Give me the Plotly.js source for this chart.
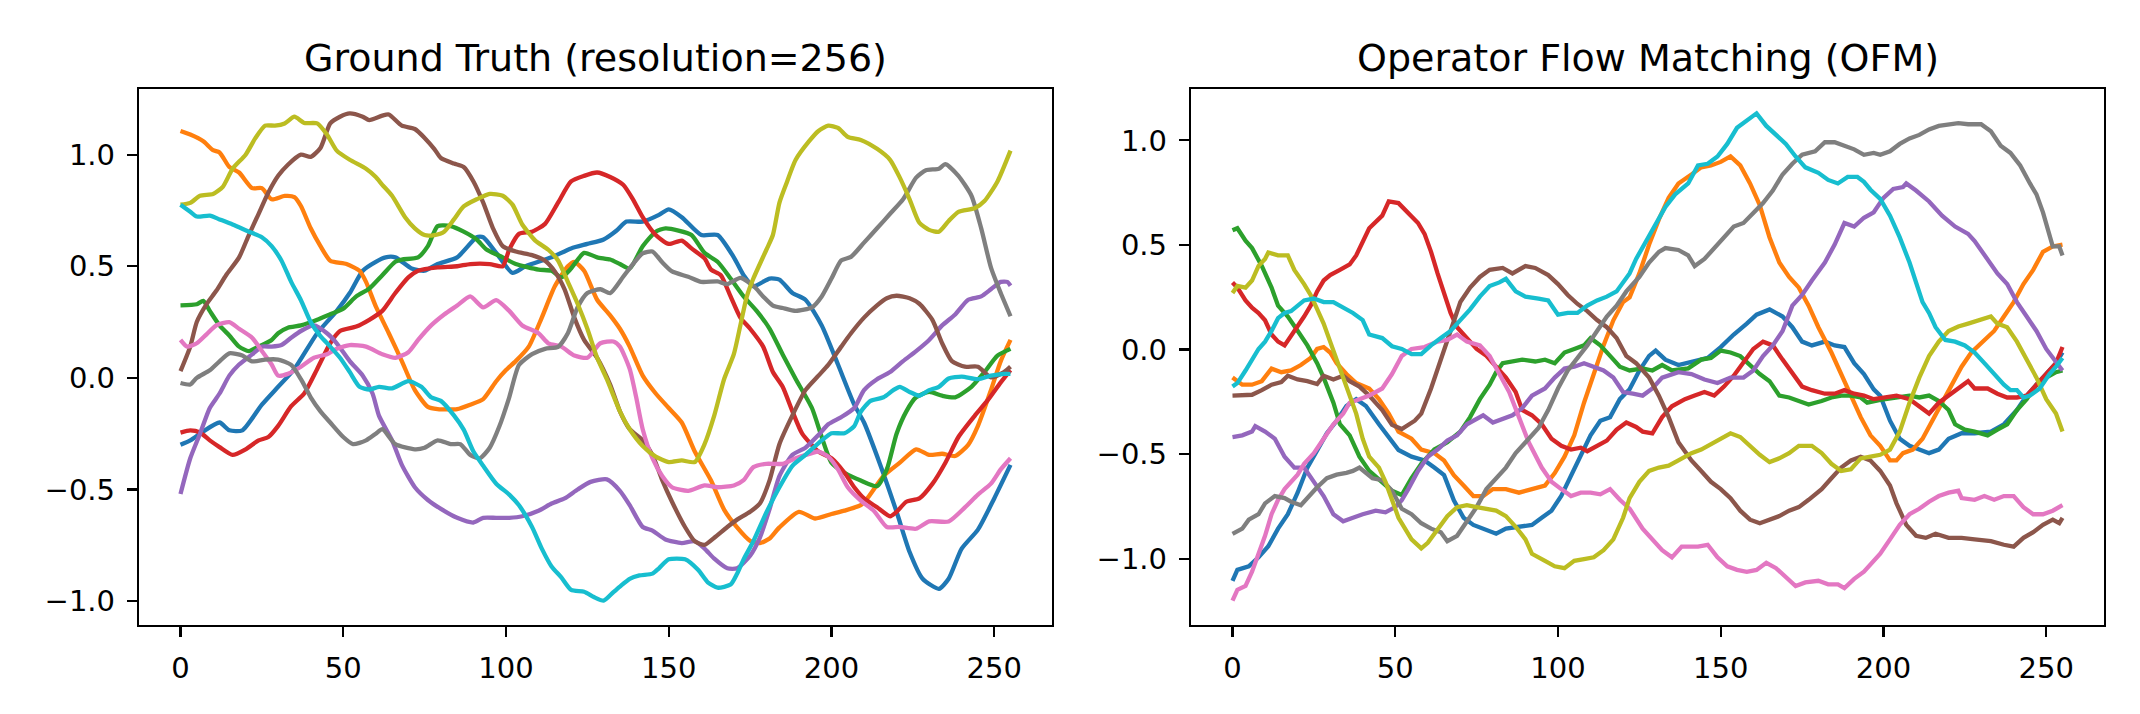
<!DOCTYPE html>
<html><head><meta charset="utf-8">
<script src="https://cdn.plot.ly/plotly-3.0.1.min.js"></script>
<style>html,body{margin:0;padding:0;background:#fff}#chart{width:2140px;height:714px}</style>
</head><body><div id="chart"></div>
<script>
// ---------- labels ----------
const panelTitles = ['Ground Truth (resolution=256)', 'Operator Flow Matching (OFM)'];
const xTickVals = [0, 50, 100, 150, 200, 250];
const yTickVals = [-1, -0.5, 0, 0.5, 1];
const yTickText = ['\u22121.0', '\u22120.5', '0.0', '0.5', '1.0'];
const seriesColors = ['#1f77b4','#ff7f0e','#2ca02c','#d62728','#9467bd','#8c564b','#e377c2','#7f7f7f','#bcbd22','#17becf'];

// ---------- Ground truth samples [x, value] ----------
const gtBlue = [[0,-0.30],[3,-0.28],[7,-0.24],[12,-0.20],[15,-0.235],[19,-0.235],[25,-0.12],[30,-0.04],[35,0.04],[42,0.20],[48,0.30],[52,0.38],[56,0.48],[60,0.52],[63,0.54],[66,0.54],[71,0.49],[75,0.48],[79,0.51],[85,0.54],[91,0.63],[93,0.63],[97,0.56],[102,0.47],[106,0.50],[114,0.54],[120,0.58],[125,0.60],[130,0.62],[134,0.66],[137,0.70],[142,0.70],[147,0.73],[150,0.755],[154,0.72],[160,0.64],[165,0.64],[170,0.54],[173,0.46],[176,0.41],[181,0.445],[184,0.44],[188,0.38],[192,0.35],[197,0.235],[202,0.06],[207,-0.12],[210,-0.20],[215,-0.39],[220,-0.60],[224,-0.78],[228,-0.90],[233,-0.945],[236,-0.90],[240,-0.765],[245,-0.68],[250,-0.54],[255,-0.39]];
const gtOrange = [[0,1.106],[3,1.09],[7,1.06],[10,1.02],[12,1.01],[15,0.945],[18,0.92],[22,0.85],[25,0.85],[28,0.80],[32,0.815],[35,0.81],[37,0.77],[40,0.67],[43,0.59],[46,0.525],[51,0.51],[55,0.48],[57,0.43],[60,0.32],[64,0.20],[68,0.075],[72,-0.055],[76,-0.13],[79,-0.14],[85,-0.14],[89,-0.12],[93,-0.095],[97,-0.015],[100,0.035],[103,0.075],[107,0.14],[111,0.27],[115,0.41],[119,0.50],[121,0.52],[124,0.48],[128,0.35],[132,0.28],[135,0.22],[138,0.14],[142,0.01],[146,-0.07],[150,-0.135],[154,-0.20],[158,-0.33],[163,-0.46],[167,-0.59],[171,-0.67],[175,-0.73],[178,-0.74],[181,-0.72],[184,-0.67],[190,-0.60],[195,-0.63],[200,-0.61],[204,-0.595],[209,-0.57],[211,-0.54],[216,-0.44],[221,-0.38],[226,-0.32],[230,-0.345],[234,-0.34],[238,-0.35],[242,-0.30],[245,-0.215],[249,-0.055],[252,0.075],[255,0.17]];
const gtGreen = [[0,0.325],[5,0.33],[7,0.345],[9,0.30],[12,0.235],[15,0.19],[18,0.14],[21,0.12],[24,0.14],[28,0.17],[30,0.20],[33,0.225],[37,0.235],[42,0.26],[46,0.285],[50,0.31],[54,0.365],[58,0.40],[62,0.46],[66,0.52],[68,0.53],[73,0.54],[76,0.59],[79,0.68],[83,0.68],[87,0.655],[91,0.62],[94,0.575],[99,0.54],[103,0.51],[110,0.485],[114,0.48],[117,0.45],[120,0.49],[124,0.56],[128,0.54],[132,0.53],[135,0.51],[138,0.49],[142,0.59],[146,0.655],[149,0.67],[153,0.66],[157,0.64],[161,0.56],[165,0.52],[169,0.445],[173,0.365],[177,0.30],[181,0.22],[185,0.105],[189,-0.005],[194,-0.135],[197,-0.265],[200,-0.38],[204,-0.425],[209,-0.46],[214,-0.485],[217,-0.41],[220,-0.25],[223,-0.15],[226,-0.087],[230,-0.063],[234,-0.08],[238,-0.087],[243,-0.04],[247,0.026],[251,0.10],[255,0.13]];
const gtRed = [[0,-0.245],[3,-0.235],[6,-0.245],[9,-0.28],[12,-0.31],[16,-0.345],[20,-0.32],[24,-0.28],[27,-0.265],[30,-0.215],[34,-0.127],[38,-0.07],[42,0.04],[46,0.155],[49,0.21],[54,0.23],[58,0.26],[62,0.30],[66,0.38],[70,0.45],[73,0.48],[79,0.495],[85,0.50],[89,0.51],[95,0.51],[99,0.50],[101,0.575],[104,0.645],[108,0.655],[112,0.69],[116,0.785],[120,0.88],[124,0.905],[128,0.92],[132,0.90],[136,0.865],[139,0.80],[142,0.72],[146,0.64],[150,0.60],[154,0.615],[157,0.58],[161,0.535],[163,0.485],[166,0.46],[169,0.365],[172,0.27],[175,0.22],[179,0.14],[182,0.026],[185,-0.04],[188,-0.15],[191,-0.25],[196,-0.33],[200,-0.36],[204,-0.425],[207,-0.49],[210,-0.54],[214,-0.58],[218,-0.62],[220,-0.60],[223,-0.555],[227,-0.54],[231,-0.475],[235,-0.38],[239,-0.265],[244,-0.17],[248,-0.10],[252,-0.02],[255,0.035]];
const gtPurple = [[0,-0.52],[3,-0.36],[6,-0.25],[9,-0.135],[12,-0.07],[15,0.01],[18,0.06],[22,0.105],[25,0.14],[28,0.14],[31,0.147],[34,0.18],[37,0.21],[41,0.235],[45,0.20],[48,0.155],[52,0.075],[56,0.01],[59,-0.07],[61,-0.17],[65,-0.28],[68,-0.39],[72,-0.49],[76,-0.547],[80,-0.587],[85,-0.627],[90,-0.648],[93,-0.627],[97,-0.627],[101,-0.627],[105,-0.62],[110,-0.595],[114,-0.563],[118,-0.54],[122,-0.50],[126,-0.466],[131,-0.455],[135,-0.506],[138,-0.57],[142,-0.668],[145,-0.684],[149,-0.724],[154,-0.74],[158,-0.732],[161,-0.765],[164,-0.81],[168,-0.853],[171,-0.853],[175,-0.797],[178,-0.716],[181,-0.587],[184,-0.44],[188,-0.345],[192,-0.313],[196,-0.256],[199,-0.208],[203,-0.176],[207,-0.135],[210,-0.055],[214,-0.006],[218,0.026],[222,0.075],[226,0.12],[230,0.17],[234,0.235],[238,0.284],[242,0.35],[246,0.365],[249,0.397],[252,0.43],[254,0.43],[255,0.413]];
const gtBrown = [[0,0.03],[3,0.14],[5,0.25],[8,0.33],[11,0.39],[14,0.46],[18,0.54],[21,0.64],[24,0.735],[27,0.83],[30,0.905],[33,0.955],[37,1.0],[40,0.99],[43,1.03],[46,1.14],[49,1.17],[52,1.185],[56,1.17],[58,1.155],[62,1.175],[64,1.18],[68,1.13],[72,1.115],[75,1.075],[78,1.025],[80,0.985],[84,0.96],[87,0.945],[90,0.88],[93,0.785],[96,0.67],[99,0.59],[103,0.566],[108,0.55],[112,0.525],[115,0.477],[118,0.397],[121,0.27],[124,0.17],[128,0.09],[132,-0.03],[135,-0.15],[138,-0.23],[142,-0.28],[145,-0.345],[148,-0.458],[151,-0.555],[155,-0.668],[158,-0.732],[161,-0.748],[164,-0.716],[168,-0.668],[171,-0.635],[175,-0.60],[178,-0.563],[181,-0.458],[184,-0.297],[188,-0.168],[192,-0.055],[196,0.01],[199,0.058],[203,0.14],[206,0.20],[210,0.27],[214,0.325],[217,0.357],[220,0.368],[224,0.357],[227,0.332],[231,0.26],[234,0.155],[237,0.075],[241,0.05],[245,0.05],[249,0.002],[253,0.026],[255,0.05]];
const gtPink = [[0,0.17],[2,0.14],[5,0.155],[8,0.195],[11,0.235],[15,0.25],[18,0.22],[22,0.18],[25,0.12],[28,0.06],[30,0.01],[33,0.018],[37,0.05],[41,0.09],[45,0.106],[48,0.13],[52,0.147],[57,0.14],[62,0.106],[66,0.09],[70,0.115],[73,0.17],[77,0.235],[81,0.284],[85,0.324],[89,0.365],[93,0.316],[97,0.348],[101,0.30],[105,0.235],[110,0.20],[113,0.155],[117,0.14],[121,0.10],[125,0.09],[129,0.155],[133,0.163],[135,0.14],[138,0.04],[140,-0.087],[142,-0.23],[145,-0.36],[148,-0.44],[151,-0.49],[156,-0.506],[161,-0.482],[165,-0.49],[170,-0.482],[173,-0.458],[176,-0.40],[180,-0.385],[185,-0.385],[189,-0.36],[194,-0.337],[196,-0.33],[199,-0.353],[202,-0.41],[205,-0.49],[209,-0.55],[213,-0.595],[217,-0.668],[221,-0.668],[226,-0.676],[230,-0.643],[236,-0.643],[241,-0.58],[245,-0.523],[249,-0.474],[252,-0.41],[255,-0.36]];
const gtGray = [[0,-0.023],[3,-0.03],[5,0.0],[9,0.034],[12,0.074],[15,0.11],[19,0.10],[22,0.074],[26,0.082],[30,0.082],[34,0.058],[37,-0.006],[40,-0.087],[43,-0.15],[46,-0.20],[50,-0.265],[53,-0.297],[57,-0.28],[60,-0.25],[62,-0.23],[66,-0.297],[72,-0.32],[75,-0.313],[79,-0.28],[83,-0.297],[86,-0.297],[89,-0.345],[92,-0.36],[95,-0.313],[98,-0.216],[101,-0.087],[104,0.058],[108,0.106],[112,0.13],[116,0.139],[119,0.20],[122,0.316],[125,0.38],[129,0.397],[132,0.38],[136,0.453],[139,0.51],[142,0.558],[145,0.566],[148,0.518],[151,0.477],[156,0.453],[160,0.43],[165,0.432],[168,0.42],[172,0.448],[176,0.413],[179,0.365],[182,0.324],[185,0.313],[189,0.30],[194,0.316],[197,0.365],[200,0.445],[203,0.526],[206,0.542],[210,0.606],[214,0.67],[218,0.735],[222,0.80],[226,0.897],[229,0.93],[233,0.937],[235,0.958],[239,0.905],[243,0.816],[246,0.67],[249,0.494],[252,0.38],[255,0.276]];
const gtOlive = [[0,0.776],[3,0.784],[6,0.816],[10,0.824],[13,0.856],[16,0.937],[20,1.0],[23,1.074],[26,1.13],[29,1.13],[32,1.14],[35,1.17],[38,1.142],[42,1.14],[45,1.09],[48,1.018],[52,0.977],[57,0.937],[60,0.90],[62,0.865],[65,0.816],[69,0.72],[72,0.67],[75,0.64],[78,0.64],[81,0.655],[84,0.71],[87,0.768],[91,0.80],[95,0.824],[99,0.816],[102,0.776],[105,0.687],[109,0.615],[113,0.574],[116,0.526],[119,0.43],[122,0.332],[125,0.22],[128,0.09],[131,-0.006],[135,-0.15],[138,-0.23],[142,-0.305],[146,-0.353],[150,-0.377],[154,-0.37],[158,-0.377],[161,-0.297],[164,-0.168],[167,-0.006],[170,0.106],[172,0.235],[174,0.365],[176,0.445],[180,0.574],[182,0.64],[184,0.784],[186,0.865],[189,0.977],[193,1.058],[196,1.106],[199,1.13],[202,1.12],[205,1.08],[209,1.066],[214,1.026],[218,0.977],[221,0.897],[224,0.80],[227,0.695],[230,0.663],[233,0.655],[236,0.703],[239,0.744],[244,0.76],[247,0.792],[251,0.88],[255,1.018]];
const gtCyan = [[0,0.776],[3,0.744],[5,0.723],[9,0.727],[12,0.71],[16,0.687],[21,0.655],[25,0.63],[28,0.59],[31,0.526],[34,0.43],[37,0.348],[40,0.25],[43,0.187],[46,0.14],[49,0.09],[52,0.026],[55,-0.04],[58,-0.052],[61,-0.04],[65,-0.047],[70,-0.015],[74,-0.04],[77,-0.087],[80,-0.103],[84,-0.168],[87,-0.232],[90,-0.33],[93,-0.394],[97,-0.474],[101,-0.523],[104,-0.571],[108,-0.668],[111,-0.765],[114,-0.845],[117,-0.894],[120,-0.95],[124,-0.958],[127,-0.982],[130,-0.998],[133,-0.96],[135,-0.935],[138,-0.90],[141,-0.885],[145,-0.877],[147,-0.853],[150,-0.813],[155,-0.813],[159,-0.86],[162,-0.916],[165,-0.94],[169,-0.926],[171,-0.877],[173,-0.813],[176,-0.732],[180,-0.603],[184,-0.49],[188,-0.394],[192,-0.345],[197,-0.28],[200,-0.248],[204,-0.248],[207,-0.216],[209,-0.152],[212,-0.103],[216,-0.087],[219,-0.055],[221,-0.04],[224,-0.063],[227,-0.08],[230,-0.055],[233,-0.04],[236,-0.003],[240,0.006],[245,-0.006],[249,0.01],[253,0.018],[255,0.018]];

// ---------- OFM samples [x, value] ----------
const ofmBlue = [[0,-1.105],[1.5,-1.053],[5,-1.036],[8,-0.993],[11,-0.94],[14,-0.856],[17,-0.787],[20,-0.684],[23,-0.564],[26,-0.478],[29,-0.40],[32,-0.34],[35,-0.27],[38,-0.237],[41,-0.27],[45,-0.357],[48,-0.42],[51,-0.48],[55,-0.512],[59,-0.53],[62,-0.564],[65,-0.60],[68,-0.72],[71,-0.804],[74,-0.838],[77,-0.856],[81,-0.88],[84,-0.856],[88,-0.847],[92,-0.838],[95,-0.804],[98,-0.77],[101,-0.70],[104,-0.60],[107,-0.512],[110,-0.41],[113,-0.34],[116,-0.323],[119,-0.237],[122,-0.19],[125,-0.10],[128,-0.03],[130,-0.005],[133,-0.048],[137,-0.074],[142,-0.057],[146,-0.04],[150,0.012],[154,0.072],[158,0.124],[161,0.167],[165,0.192],[169,0.158],[172,0.107],[175,0.038],[178,0.02],[182,0.038],[185,0.02],[188,0.012],[191,-0.065],[194,-0.117],[197,-0.19],[199,-0.22],[202,-0.34],[205,-0.426],[208,-0.46],[211,-0.478],[214,-0.495],[217,-0.478],[220,-0.426],[224,-0.40],[228,-0.40],[233,-0.392],[237,-0.357],[241,-0.289],[244,-0.22],[247,-0.168],[250,-0.117],[253,-0.065],[255,-0.014]];
const ofmOrange = [[0,-0.134],[3,-0.168],[6,-0.168],[9,-0.151],[12,-0.091],[15,-0.108],[18,-0.10],[21,-0.074],[24,-0.04],[26,0.003],[28,0.012],[30,-0.014],[32,-0.065],[35,-0.117],[38,-0.16],[42,-0.186],[45,-0.237],[48,-0.306],[51,-0.392],[55,-0.426],[58,-0.478],[62,-0.495],[65,-0.53],[68,-0.60],[71,-0.65],[74,-0.70],[77,-0.70],[80,-0.667],[84,-0.667],[88,-0.684],[92,-0.667],[96,-0.65],[99,-0.59],[102,-0.512],[105,-0.41],[108,-0.254],[111,-0.117],[114,0.02],[117,0.14],[120,0.227],[122,0.25],[125,0.364],[128,0.502],[131,0.622],[134,0.725],[137,0.794],[141,0.837],[144,0.871],[147,0.88],[150,0.897],[153,0.923],[156,0.88],[159,0.794],[162,0.69],[165,0.536],[168,0.416],[171,0.347],[174,0.296],[177,0.21],[180,0.107],[184,-0.014],[187,-0.117],[190,-0.22],[193,-0.323],[196,-0.41],[199,-0.46],[202,-0.53],[204,-0.53],[206,-0.495],[209,-0.478],[212,-0.426],[215,-0.34],[218,-0.254],[221,-0.168],[224,-0.082],[227,-0.014],[230,0.029],[234,0.089],[237,0.158],[240,0.227],[243,0.313],[246,0.381],[249,0.467],[252,0.493],[255,0.502]];
const ofmGreen = [[0,0.57],[1.5,0.58],[4,0.52],[6,0.485],[9,0.40],[12,0.296],[14,0.21],[17,0.158],[20,0.09],[23,0.02],[26,-0.065],[28,-0.134],[31,-0.254],[33,-0.357],[36,-0.41],[39,-0.512],[42,-0.58],[46,-0.632],[49,-0.675],[52,-0.695],[55,-0.615],[58,-0.546],[62,-0.478],[66,-0.443],[70,-0.392],[73,-0.323],[76,-0.237],[79,-0.168],[81,-0.108],[83,-0.065],[86,-0.057],[89,-0.048],[93,-0.057],[96,-0.048],[99,-0.065],[102,-0.014],[105,0.003],[108,0.02],[110,0.055],[113,0.02],[116,-0.03],[119,-0.082],[122,-0.10],[126,-0.09],[129,-0.10],[132,-0.074],[135,-0.10],[140,-0.09],[144,-0.048],[147,-0.04],[150,-0.005],[153,-0.014],[156,-0.031],[159,-0.074],[162,-0.117],[165,-0.151],[168,-0.22],[171,-0.229],[174,-0.246],[177,-0.263],[181,-0.246],[184,-0.229],[187,-0.22],[190,-0.22],[193,-0.229],[195,-0.254],[199,-0.24],[204,-0.229],[208,-0.22],[211,-0.229],[214,-0.22],[217,-0.246],[220,-0.289],[222,-0.357],[225,-0.383],[228,-0.392],[232,-0.41],[235,-0.383],[238,-0.357],[241,-0.289],[244,-0.237],[247,-0.168],[250,-0.134],[253,-0.108],[255,-0.10]];
const ofmRed = [[0,0.32],[1.5,0.296],[4,0.235],[6,0.20],[8,0.175],[10,0.14],[12,0.072],[14,0.038],[16,0.02],[18,0.064],[20,0.107],[22,0.158],[24,0.21],[26,0.278],[28,0.33],[30,0.356],[33,0.381],[36,0.407],[38,0.45],[40,0.51],[42,0.58],[46,0.64],[48,0.708],[51,0.70],[54,0.656],[57,0.605],[59,0.553],[61,0.467],[63,0.364],[65,0.261],[67,0.175],[69,0.107],[72,0.055],[75,0.003],[78,-0.03],[81,-0.082],[84,-0.134],[87,-0.203],[89,-0.289],[92,-0.314],[95,-0.357],[98,-0.426],[101,-0.46],[104,-0.478],[107,-0.469],[109,-0.486],[112,-0.46],[115,-0.435],[118,-0.383],[121,-0.349],[124,-0.37],[126,-0.392],[129,-0.40],[132,-0.323],[135,-0.271],[139,-0.237],[142,-0.22],[145,-0.203],[148,-0.22],[151,-0.177],[154,-0.125],[157,-0.065],[160,0.003],[163,0.038],[166,0.02],[169,-0.048],[172,-0.117],[175,-0.177],[178,-0.194],[182,-0.211],[185,-0.211],[188,-0.194],[191,-0.211],[194,-0.22],[197,-0.237],[200,-0.229],[204,-0.22],[208,-0.237],[211,-0.271],[214,-0.306],[217,-0.254],[220,-0.22],[223,-0.186],[226,-0.151],[228,-0.186],[232,-0.186],[235,-0.211],[238,-0.229],[241,-0.229],[244,-0.22],[247,-0.168],[250,-0.117],[253,-0.065],[255,0.012]];
const ofmPurple = [[0,-0.418],[3,-0.41],[6,-0.392],[7,-0.366],[10,-0.392],[13,-0.426],[16,-0.512],[19,-0.564],[22,-0.564],[25,-0.632],[28,-0.70],[31,-0.787],[34,-0.821],[37,-0.804],[40,-0.787],[44,-0.77],[47,-0.778],[50,-0.753],[52,-0.72],[54,-0.667],[57,-0.58],[60,-0.512],[63,-0.478],[66,-0.435],[69,-0.41],[72,-0.357],[75,-0.332],[77,-0.314],[80,-0.349],[83,-0.332],[86,-0.314],[89,-0.28],[92,-0.22],[96,-0.186],[99,-0.134],[102,-0.091],[105,-0.082],[108,-0.065],[111,-0.082],[114,-0.10],[117,-0.134],[120,-0.203],[123,-0.211],[126,-0.22],[129,-0.186],[132,-0.134],[137,-0.108],[141,-0.117],[145,-0.143],[149,-0.16],[153,-0.134],[157,-0.134],[160,-0.10],[163,-0.031],[166,0.02],[169,0.089],[172,0.21],[175,0.261],[178,0.33],[182,0.416],[185,0.502],[188,0.605],[191,0.588],[194,0.63],[197,0.656],[200,0.725],[203,0.768],[206,0.777],[207,0.794],[210,0.76],[214,0.708],[218,0.64],[222,0.588],[226,0.553],[228,0.519],[232,0.433],[235,0.364],[238,0.313],[241,0.227],[244,0.158],[247,0.089],[250,0.003],[253,-0.057],[255,-0.10]];
const ofmBrown = [[0,-0.22],[3,-0.22],[6,-0.216],[9,-0.194],[12,-0.168],[15,-0.155],[17,-0.125],[20,-0.143],[23,-0.151],[26,-0.165],[28,-0.125],[31,-0.143],[34,-0.125],[36,-0.151],[39,-0.177],[42,-0.22],[46,-0.289],[49,-0.36],[52,-0.38],[56,-0.34],[58,-0.306],[61,-0.186],[64,-0.048],[67,0.089],[70,0.227],[73,0.296],[76,0.347],[79,0.381],[83,0.39],[86,0.364],[90,0.399],[93,0.39],[97,0.356],[100,0.313],[103,0.261],[106,0.218],[109,0.184],[112,0.141],[115,0.107],[118,0.055],[121,-0.031],[124,-0.065],[125,-0.082],[128,-0.134],[131,-0.22],[134,-0.323],[137,-0.443],[141,-0.53],[144,-0.58],[147,-0.632],[150,-0.667],[153,-0.71],[156,-0.77],[159,-0.813],[162,-0.83],[165,-0.813],[168,-0.796],[171,-0.77],[174,-0.753],[177,-0.718],[181,-0.667],[184,-0.615],[187,-0.564],[190,-0.53],[193,-0.512],[196,-0.53],[199,-0.58],[202,-0.65],[204,-0.735],[207,-0.838],[210,-0.89],[213,-0.90],[216,-0.88],[220,-0.90],[224,-0.90],[228,-0.907],[233,-0.916],[237,-0.933],[240,-0.942],[243,-0.90],[246,-0.873],[249,-0.838],[252,-0.813],[254,-0.83],[255,-0.804]];
const ofmPink = [[0,-1.20],[1.5,-1.148],[4,-1.13],[6,-1.062],[8,-0.976],[10,-0.89],[12,-0.787],[14,-0.718],[16,-0.667],[18,-0.632],[20,-0.598],[22,-0.546],[25,-0.495],[28,-0.426],[31,-0.357],[34,-0.306],[36,-0.254],[39,-0.237],[42,-0.22],[46,-0.186],[49,-0.117],[52,-0.031],[55,0.003],[59,0.012],[63,0.038],[66,0.046],[69,0.072],[72,0.038],[76,0.02],[79,-0.031],[82,-0.117],[85,-0.203],[88,-0.323],[91,-0.443],[95,-0.564],[98,-0.632],[101,-0.667],[104,-0.70],[107,-0.684],[110,-0.684],[113,-0.692],[116,-0.667],[119,-0.718],[122,-0.76],[126,-0.856],[129,-0.907],[132,-0.959],[135,-0.993],[138,-0.942],[143,-0.942],[146,-0.933],[149,-0.993],[152,-1.036],[155,-1.053],[158,-1.062],[161,-1.053],[164,-1.019],[167,-1.045],[170,-1.088],[173,-1.13],[176,-1.113],[180,-1.105],[183,-1.122],[186,-1.122],[188,-1.14],[191,-1.096],[194,-1.062],[197,-1.01],[199,-0.976],[202,-0.907],[205,-0.838],[208,-0.787],[211,-0.761],[214,-0.727],[217,-0.70],[220,-0.684],[223,-0.675],[224,-0.71],[228,-0.718],[231,-0.70],[234,-0.718],[237,-0.70],[240,-0.70],[243,-0.753],[246,-0.787],[249,-0.787],[252,-0.77],[255,-0.744]];
const ofmGray = [[0,-0.881],[3,-0.856],[5,-0.813],[8,-0.787],[10,-0.735],[13,-0.70],[16,-0.71],[18,-0.727],[21,-0.744],[23,-0.71],[26,-0.658],[29,-0.615],[32,-0.598],[35,-0.589],[37,-0.58],[39,-0.564],[43,-0.615],[46,-0.624],[49,-0.675],[52,-0.761],[55,-0.787],[58,-0.83],[61,-0.856],[64,-0.873],[66,-0.916],[69,-0.89],[72,-0.821],[75,-0.753],[78,-0.667],[81,-0.615],[84,-0.564],[87,-0.495],[90,-0.443],[94,-0.375],[97,-0.289],[100,-0.186],[103,-0.10],[106,-0.04],[109,0.02],[112,0.089],[115,0.158],[118,0.21],[121,0.278],[124,0.33],[125,0.347],[128,0.416],[131,0.467],[133,0.485],[137,0.476],[140,0.45],[142,0.399],[145,0.433],[148,0.485],[151,0.536],[154,0.588],[157,0.605],[160,0.656],[163,0.70],[166,0.76],[169,0.837],[172,0.888],[175,0.931],[179,0.948],[182,0.991],[185,0.991],[188,0.974],[191,0.957],[194,0.931],[197,0.94],[199,0.931],[202,0.948],[205,0.983],[208,1.009],[211,1.026],[214,1.052],[217,1.069],[220,1.077],[223,1.082],[226,1.077],[230,1.077],[233,1.043],[236,0.974],[239,0.94],[242,0.88],[245,0.794],[247,0.742],[249,0.656],[250.5,0.57],[252,0.493],[254,0.493],[255,0.45]];
const ofmOlive = [[0,0.27],[1.5,0.304],[4,0.296],[6,0.33],[8,0.40],[10,0.433],[11,0.464],[14,0.45],[17,0.45],[19,0.381],[22,0.313],[24,0.261],[26,0.193],[28,0.124],[30,0.038],[32,-0.048],[34,-0.134],[36,-0.22],[38,-0.306],[40,-0.426],[42,-0.512],[45,-0.564],[47,-0.632],[49,-0.718],[51,-0.804],[55,-0.907],[58,-0.95],[60,-0.924],[63,-0.856],[66,-0.796],[69,-0.753],[72,-0.744],[75,-0.753],[78,-0.761],[81,-0.77],[84,-0.796],[87,-0.847],[90,-0.907],[92,-0.976],[96,-1.01],[99,-1.036],[102,-1.045],[105,-1.01],[108,-1.002],[111,-0.993],[114,-0.959],[117,-0.907],[120,-0.804],[122,-0.71],[125,-0.632],[128,-0.58],[131,-0.564],[134,-0.555],[137,-0.53],[141,-0.495],[144,-0.478],[147,-0.452],[150,-0.426],[153,-0.40],[156,-0.418],[159,-0.46],[162,-0.503],[165,-0.538],[168,-0.52],[171,-0.495],[174,-0.46],[178,-0.46],[181,-0.495],[184,-0.546],[187,-0.58],[190,-0.572],[193,-0.52],[196,-0.512],[199,-0.503],[202,-0.478],[205,-0.392],[208,-0.254],[211,-0.134],[214,-0.031],[217,0.038],[220,0.089],[223,0.11],[226,0.124],[230,0.144],[233,0.158],[235,0.124],[238,0.107],[241,0.038],[244,-0.048],[247,-0.134],[250,-0.237],[253,-0.306],[255,-0.392]];
const ofmCyan = [[0,-0.177],[1.5,-0.16],[4,-0.10],[6,-0.048],[8,0.003],[10,0.038],[12,0.089],[14,0.15],[16,0.175],[18,0.184],[20,0.21],[22,0.235],[25,0.244],[28,0.227],[31,0.227],[34,0.20],[37,0.175],[40,0.141],[42,0.072],[46,0.055],[49,0.016],[52,0.003],[55,-0.022],[58,-0.022],[61,0.02],[64,0.055],[67,0.089],[70,0.141],[73,0.192],[76,0.253],[79,0.304],[82,0.321],[84,0.338],[87,0.278],[90,0.253],[94,0.244],[97,0.235],[100,0.167],[103,0.175],[106,0.175],[109,0.21],[112,0.235],[115,0.253],[118,0.278],[121,0.347],[122,0.364],[124,0.433],[127,0.519],[130,0.605],[133,0.682],[136,0.742],[140,0.794],[143,0.88],[146,0.888],[149,0.923],[152,0.983],[155,1.06],[158,1.095],[161,1.129],[164,1.069],[167,1.026],[170,0.983],[173,0.923],[176,0.871],[180,0.845],[183,0.811],[186,0.794],[189,0.825],[192,0.825],[194,0.802],[196,0.764],[199,0.72],[202,0.64],[205,0.536],[208,0.416],[210,0.313],[212,0.227],[214,0.175],[216,0.107],[219,0.046],[222,0.038],[225,0.02],[228,-0.014],[231,-0.065],[234,-0.117],[237,-0.168],[239,-0.194],[241,-0.194],[243,-0.229],[245,-0.22],[248,-0.186],[251,-0.117],[253,-0.082],[255,-0.04]];

const gtSeries = [gtBlue, gtOrange, gtGreen, gtRed, gtPurple, gtBrown, gtPink, gtGray, gtOlive, gtCyan];
const ofmSeries = [ofmBlue, ofmOrange, ofmGreen, ofmRed, ofmPurple, ofmBrown, ofmPink, ofmGray, ofmOlive, ofmCyan];

// ---------- build ----------
const FONT = 'DejaVu Sans, sans-serif';
const LW = 4.3;
function autoRange(list) {
  let lo = Infinity, hi = -Infinity;
  list.forEach(s => s.forEach(p => { lo = Math.min(lo, p[1]); hi = Math.max(hi, p[1]); }));
  const m = (hi - lo) * 0.05;
  return [lo - m, hi + m];
}
const traces = [];
gtSeries.forEach((s, i) => traces.push({
  x: s.map(p => p[0]), y: s.map(p => p[1]), type: 'scatter', mode: 'lines',
  line: {color: seriesColors[i], width: LW, shape: 'spline', smoothing: 0.6},
  xaxis: 'x', yaxis: 'y', hoverinfo: 'skip'
}));
ofmSeries.forEach((s, i) => traces.push({
  x: s.map(p => p[0]), y: s.map(p => p[1]), type: 'scatter', mode: 'lines',
  line: {color: seriesColors[i], width: LW, shape: 'linear'},
  xaxis: 'x2', yaxis: 'y2', hoverinfo: 'skip'
}));

const W = 2140, H = 714;
const leftDom = [139 / W, 1052 / W];
const rightDom = [1191 / W, 2104 / W];
const yDom = [1 - 625 / H, 1 - 89 / H];

function xAxis(dom, anchor) {
  return {
    domain: dom, anchor: anchor, range: [-12.75, 267.75],
    tickmode: 'array', tickvals: xTickVals, ticktext: xTickVals.map(String),
    ticks: 'outside', ticklen: 10, tickwidth: 2.2, tickcolor: '#000',
    showline: true, linecolor: '#000', linewidth: 2.2, mirror: true,
    showgrid: false, zeroline: false, ticklabelstandoff: 6,
    tickfont: {family: FONT, size: 29, color: '#000'}
  };
}
function yAxis(anchor, range) {
  return {
    domain: yDom, anchor: anchor, range: range,
    tickmode: 'array', tickvals: yTickVals, ticktext: yTickText,
    ticks: 'outside', ticklen: 10, tickwidth: 2.2, tickcolor: '#000',
    showline: true, linecolor: '#000', linewidth: 2.2, mirror: true,
    showgrid: false, zeroline: false, ticklabelstandoff: 6,
    tickfont: {family: FONT, size: 29, color: '#000'}
  };
}

const layout = {
  width: W, height: H, margin: {l: 0, r: 0, t: 0, b: 0},
  paper_bgcolor: '#fff', plot_bgcolor: '#fff', showlegend: false,
  font: {family: FONT, color: '#000'},
  xaxis: xAxis(leftDom, 'y'),
  yaxis: yAxis('x', autoRange(gtSeries)),
  xaxis2: xAxis(rightDom, 'y2'),
  yaxis2: yAxis('x2', autoRange(ofmSeries)),
  annotations: panelTitles.map((t, i) => ({
    text: t, xref: 'paper', yref: 'paper',
    x: i === 0 ? (leftDom[0] + leftDom[1]) / 2 : (rightDom[0] + rightDom[1]) / 2,
    y: 1 - 58 / H, xanchor: 'center', yanchor: 'middle', showarrow: false,
    font: {family: FONT, size: 38, color: '#000'}
  }))
};
Plotly.newPlot('chart', traces, layout, {staticPlot: true, displayModeBar: false});
</script>
</body></html>
